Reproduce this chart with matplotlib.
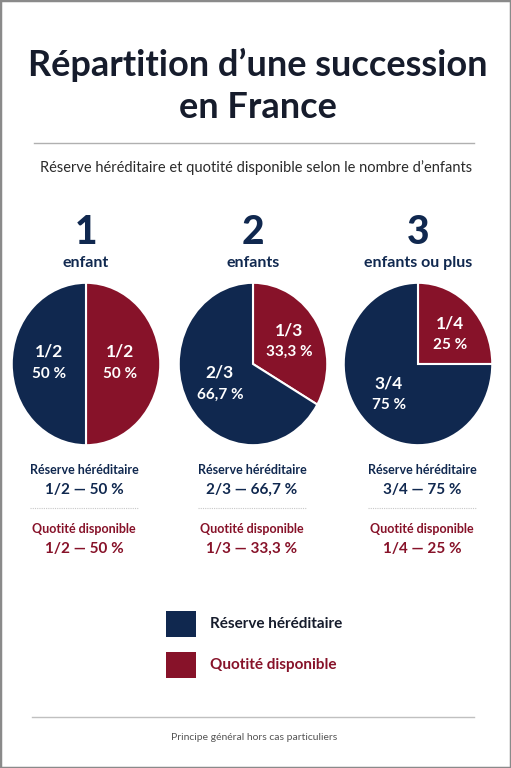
import matplotlib.pyplot as plt
from matplotlib.patches import Rectangle
from matplotlib.lines import Line2D

plt.rcParams['font.family'] = ['Lato', 'DejaVu Sans']

# data
groups = ['1', '2', '3']
group_labels = ['enfant', 'enfants', 'enfants ou plus']
quotite = [1 / 2, 1 / 3, 1 / 4]
reserve = [1 / 2, 2 / 3, 3 / 4]
quotite_frac = ['1/2', '1/3', '1/4']
reserve_frac = ['1/2', '2/3', '3/4']
quotite_pct = ['50 %', '33,3 %', '25 %']
reserve_pct = ['50 %', '66,7 %', '75 %']

NAVY = '#10284f'
RED = '#871229'
DARK = '#161c2c'

W, H = 511, 768
fig = plt.figure(figsize=(W / 100, H / 100), dpi=100)
fig.patch.set_facecolor('white')


def fx(x):
    return x / W


def fy(y):
    return 1 - y / H


def txt(x, y, s, **kw):
    fig.text(fx(x), fy(y), s, ha=kw.pop('ha', 'center'), va=kw.pop('va', 'center'), **kw)


# frame
fig.add_artist(Rectangle((0, 0), 1, 1, transform=fig.transFigure, fill=False,
                         edgecolor='#8a8a8a', linewidth=2.5))

# title
txt(258, 65, 'Répartition d’une succession', fontsize=26, fontweight='bold', color=DARK)
txt(258, 108, 'en France', fontsize=26, fontweight='bold', color=DARK)
fig.add_artist(Line2D([fx(34), fx(474)], [fy(143), fy(143)], color='#b0b0b0', lw=1))
txt(256, 168, 'Réserve héréditaire et quotité disponible selon le nombre d’enfants',
    fontsize=10.5, color='#2a2a2a')

col_x = [86, 253, 418]
pie_x = [86, 253, 418]
label_pos = [  # (quotite label x, y), (reserve label x, y)
    ((120, 352), (49, 352)),
    ((289, 330), (220, 373)),
    ((450, 323), (389, 383)),
]

for i in range(3):
    cx = col_x[i]
    txt(cx, 233, groups[i], fontsize=28, fontweight='black', color=NAVY)
    txt(cx, 263, group_labels[i], fontsize=11.5, fontweight='bold', color=NAVY)

    rx, ry = 75, 82
    ax = fig.add_axes([fx(pie_x[i] - rx), fy(364 + ry), 2 * rx / W, 2 * ry / H])
    ax.pie([quotite[i], reserve[i]], colors=[RED, NAVY], startangle=90, counterclock=False,
           wedgeprops=dict(edgecolor='white', linewidth=1.5))
    ax.set_aspect('auto')
    ax.set_xlim(-1.01, 1.01)
    ax.set_ylim(-1.01, 1.01)
    ax.axis('off')

    (qx, qy), (rx_, ry_) = label_pos[i]
    txt(qx, qy, quotite_frac[i], fontsize=12.5, fontweight='bold', color='white')
    txt(qx, qy + 22, quotite_pct[i], fontsize=11, fontweight='bold', color='white')
    txt(rx_, ry_, reserve_frac[i], fontsize=12.5, fontweight='bold', color='white')
    txt(rx_, ry_ + 22, reserve_pct[i], fontsize=11, fontweight='bold', color='white')

    tx = [84, 252, 422][i]
    txt(tx, 470, 'Réserve héréditaire', fontsize=9, fontweight='bold', color=NAVY)
    txt(tx, 490, reserve_frac[i] + ' — ' + reserve_pct[i], fontsize=11, fontweight='bold', color=NAVY)
    fig.add_artist(Line2D([fx(tx - 54), fx(tx + 54)], [fy(508), fy(508)], color='#c8c8c8',
                          lw=0.8, ls=(0, (1, 1))))
    txt(tx, 529, 'Quotité disponible', fontsize=9, fontweight='bold', color=RED)
    txt(tx, 549, quotite_frac[i] + ' — ' + quotite_pct[i], fontsize=11, fontweight='bold', color=RED)

# legend
fig.add_artist(Rectangle((fx(166), fy(637)), 30 / W, 26 / H, transform=fig.transFigure,
                         facecolor=NAVY, edgecolor='none'))
fig.add_artist(Rectangle((fx(166), fy(678)), 30 / W, 26 / H, transform=fig.transFigure,
                         facecolor=RED, edgecolor='none'))
txt(210, 624, 'Réserve héréditaire', ha='left', fontsize=11, fontweight='bold', color=DARK)
txt(210, 665, 'Quotité disponible', ha='left', fontsize=11, fontweight='bold', color=RED)

fig.add_artist(Line2D([fx(32), fx(474)], [fy(717), fy(717)], color='#c0c0c0', lw=1))
txt(254, 737, 'Principe général hors cas particuliers', fontsize=7.5, color='#555555')

fig.savefig('out.png', dpi=100)
